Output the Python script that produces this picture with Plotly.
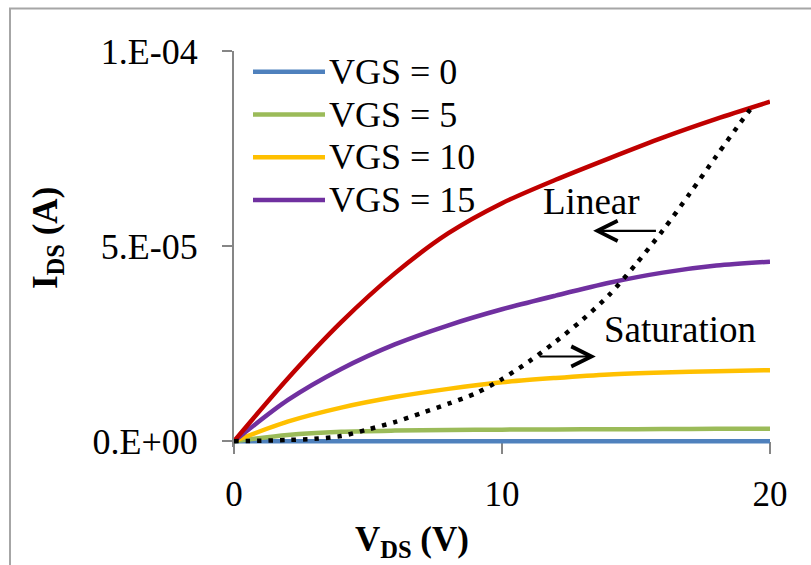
import plotly.graph_objects as go

# Drain voltage sweep (V)
vds = [0, 2, 4, 6, 8, 10, 12, 14, 16, 18, 20]

# Drain current for each gate voltage, in microamps
ids_vgs0 = [0, 0, 0, 0, 0, 0, 0, 0, 0, 0, 0]
ids_vgs5 = [0, 1.6, 2.4, 2.7, 2.85, 2.95, 3.0, 3.05, 3.1, 3.15, 3.2]
ids_vgs10 = [0, 5.0, 8.6, 11.3, 13.4, 15.1, 16.2, 17.1, 17.6, 17.9, 18.2]
ids_vgs15 = [0, 10.5, 18.5, 24.8, 29.7, 33.8, 37.3, 40.6, 43.2, 45.0, 46.0]
ids_vgs20 = [0, 16.0, 30.5, 43.0, 53.3, 61.0, 67.0, 72.5, 77.8, 82.6, 87.0]

# Boundary between linear and saturation regions
sat_vds = [0, 1, 2, 3, 4, 5, 6, 7, 8, 9, 10, 11, 12, 13, 14, 15, 16, 17, 18, 19, 19.4]
sat_ids = [0, 0.1, 0.3, 0.6, 1.3, 3.0, 4.9, 7.2, 9.6, 12.2, 15.9, 20.4, 25.5,
           31.1, 37.5, 45.4, 54.0, 63.4, 73.1, 82.6, 86.2]

series_names = ["VGS = 0", "VGS = 5", "VGS = 10", "VGS = 15", "VGS = 20"]
series_values = [ids_vgs0, ids_vgs5, ids_vgs10, ids_vgs15, ids_vgs20]
series_colors = ["#4F81BD", "#9BBB59", "#FFC000", "#7030A0", "#C00000"]
legend_count = 4

y_tickvals = [0, 5e-5, 1e-4]
y_ticktext = ["0.E+00", "5.E-05", "1.E-04"]
x_tickvals = [0, 10, 20]

FONT = "Liberation Serif"
W, H = 811, 565
L, R, T, B = 234, 41, 51, 118
PW, PH = W - L - R, H - T - B


def px_x(p):
    return (p - L) / PW


def px_y(p):
    return (H - B - p) / PH


fig = go.Figure()
for name, vals, color in zip(series_names, series_values, series_colors):
    fig.add_trace(go.Scatter(
        x=vds, y=[v * 1e-6 for v in vals], name=name, mode="lines",
        line=dict(color=color, width=4.5, shape="spline", smoothing=0.8),
        showlegend=False, hoverinfo="skip",
    ))

fig.add_trace(go.Scatter(
    x=sat_vds, y=[v * 1e-6 for v in sat_ids], mode="lines",
    line=dict(color="black", width=4.5, dash="4.5px,7px", shape="spline", smoothing=0.8),
    showlegend=False, hoverinfo="skip",
))

shapes = []
annotations = []

# Legend entries
legend_rows = [71.7, 114.5, 157.3, 200.0]
for i in range(legend_count):
    yy = px_y(legend_rows[i])
    shapes.append(dict(type="line", xref="paper", yref="paper",
                       x0=px_x(253), x1=px_x(325), y0=yy, y1=yy,
                       line=dict(color=series_colors[i], width=4.5)))
    annotations.append(dict(xref="paper", yref="paper", x=px_x(327), y=yy,
                            text=series_names[i], showarrow=False,
                            xanchor="left", yanchor="middle",
                            font=dict(family=FONT, size=36, color="black")))

# Chart border
shapes.append(dict(type="rect", xref="paper", yref="paper",
                   x0=px_x(10), x1=px_x(840), y0=px_y(8.5), y1=px_y(600),
                   line=dict(color="#A6A6A6", width=2), layer="below"))

# Region labels and arrows
annotations += [
    dict(x=13.35, y=61.4e-6, text="Linear", showarrow=False,
         xanchor="center", yanchor="middle",
         font=dict(family=FONT, size=37, color="black")),
    dict(x=16.64, y=28.5e-6, text="Saturation", showarrow=False,
         xanchor="center", yanchor="middle",
         font=dict(family=FONT, size=37, color="black")),
    dict(x=13.4, y=53.9e-6, ax=15.8, ay=53.9e-6, axref="x", ayref="y",
         text="", showarrow=True, arrowhead=5, arrowsize=1.8, arrowwidth=2.2,
         arrowcolor="black"),
    dict(x=13.5, y=21.7e-6, ax=11.35, ay=21.7e-6, axref="x", ayref="y",
         text="", showarrow=True, arrowhead=5, arrowsize=1.8, arrowwidth=2.2,
         arrowcolor="black"),
    # Axis titles
    dict(xref="paper", yref="paper", x=px_x(412), y=px_y(541),
         xanchor="center", yanchor="middle",
         text="<b>V<sub>DS</sub> (V)</b>", showarrow=False,
         font=dict(family=FONT, size=35, color="black")),
    dict(xref="paper", yref="paper", x=px_x(47), y=px_y(238),
         xanchor="center", yanchor="middle",
         text="<b>I<sub>DS</sub> (A)</b>", showarrow=False, textangle=-90,
         font=dict(family=FONT, size=35, color="black")),
]

y0 = -1.5e-6
fig.update_layout(
    width=W, height=H,
    margin=dict(l=L, r=R, t=T, b=B, pad=0),
    paper_bgcolor="white", plot_bgcolor="white",
    font=dict(family=FONT, size=35, color="black"),
    shapes=shapes, annotations=annotations,
    xaxis=dict(range=[0, 20], tickvals=x_tickvals,
               ticks="outside", ticklen=12, tickwidth=2, tickcolor="#868686",
               showline=True, linecolor="#868686", linewidth=2,
               showgrid=False, zeroline=False, layer="below traces",
               anchor="free", position=(0 - y0) / (1e-4 - y0),
               ticklabelstandoff=10,
               tickfont=dict(family=FONT, size=35, color="black")),
    yaxis=dict(range=[y0, 1e-4], tickvals=y_tickvals, ticktext=y_ticktext,
               ticks="outside", ticklen=10, tickwidth=2, tickcolor="#868686",
               showline=True, linecolor="#868686", linewidth=2,
               showgrid=False, zeroline=False, layer="below traces",
               ticklabelstandoff=17,
               tickfont=dict(family=FONT, size=36, color="black")),
)

fig.write_html("out.html")
